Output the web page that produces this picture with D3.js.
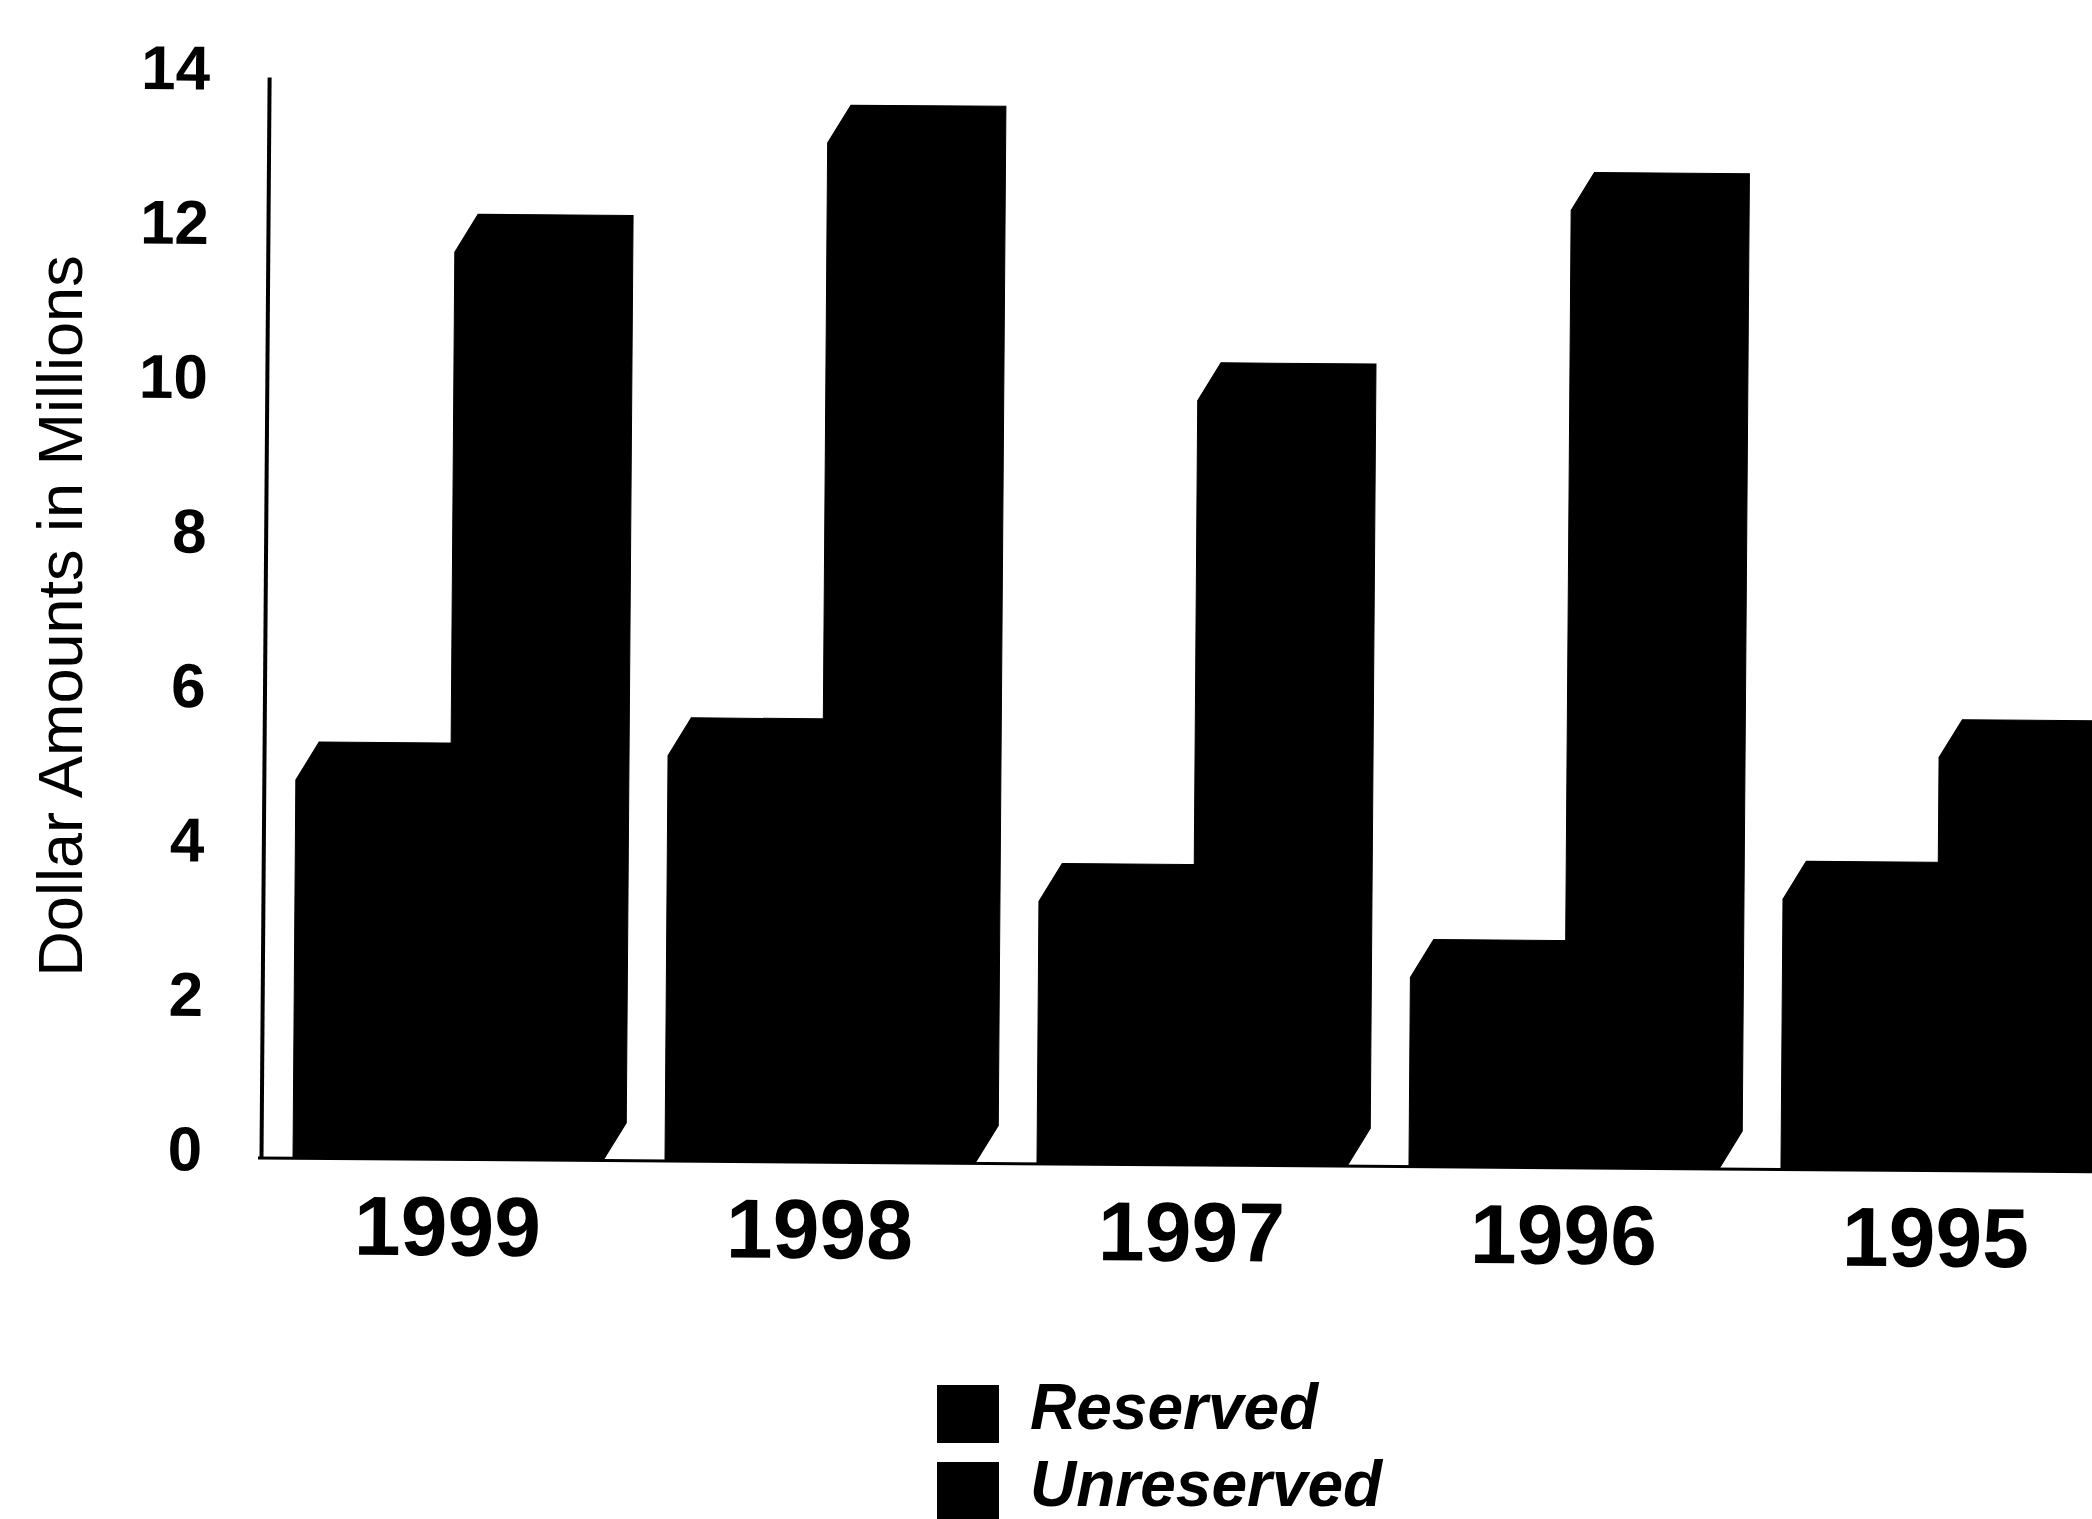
<!DOCTYPE html>
<html>
<head>
<meta charset="utf-8">
<script src="https://cdn.jsdelivr.net/npm/d3@7/dist/d3.min.js"></script>
<style>
html,body{margin:0;padding:0;background:#fff;overflow:hidden}
svg{display:block}
text{font-family:"Liberation Sans",Arial,sans-serif;fill:#000}
</style>
</head>
<body>
<svg id="chart" width="2092" height="1519"></svg>
<script>
// Fund balances by fiscal year, in millions of dollars
const years = ["1999", "1998", "1997", "1996", "1995"];
const reserved = [4.9, 5.25, 3.4, 2.45, 3.5];
const unreserved = [11.75, 13.2, 9.9, 12.4, 5.35];
const seriesNames = ["Reserved", "Unreserved"];
const yTicks = [0, 2, 4, 6, 8, 10, 12, 14];

const originX = 261, floorY = 1158, topY = 77;
const depthX = 23, depthY = 38;

const svg = d3.select("#chart");
// The whole plot sits at a slight clockwise tilt
const g = svg.append("g").attr("transform", `rotate(0.43 ${originX} ${floorY})`);

const y = d3.scaleLinear().domain([0, 14]).range([floorY, topY]);
const x0 = d3.scaleBand().domain(years).range([293, 293 + 372 * 5]).paddingInner(0).paddingOuter(0);
const x1 = d3.scaleBand().domain(seriesNames).range([0, 310]);

// Value axis
const yAxis = g.append("g").attr("transform", `translate(${originX},0)`)
  .call(d3.axisLeft(y).tickValues(yTicks).tickSize(0).tickPadding(59).tickFormat(d3.format("d")));
yAxis.select(".domain").attr("stroke", "#000").attr("stroke-width", 4);
yAxis.selectAll("text")
  .attr("dy", "0.2em")
  .style("font-size", "62px").style("font-weight", "700");

// Floor line
g.append("line").attr("x1", 258).attr("x2", 2092).attr("y1", floorY).attr("y2", floorY)
  .attr("stroke", "#000").attr("stroke-width", 3);

// Category labels
g.selectAll(".year").data(years).join("text").attr("class", "year")
  .attr("x", d => x0(d) + 155)
  .attr("y", 1254)
  .attr("text-anchor", "middle")
  .style("font-size", "84px").style("font-weight", "700")
  .text(d => d);

// Draws one extruded column as a single silhouette
function column(sel, value, name) {
  const rows = years.map((yr, i) => ({ yr, v: value[i] }));
  sel.append("g").selectAll("path").data(rows).join("path").attr("d", d => {
    const l = x0(d.yr) + x1(name), r = l + x1.bandwidth(), t = y(d.v);
    return `M${l},${floorY}L${l},${t}L${l + depthX},${t - depthY}L${r + depthX},${t - depthY}L${r + depthX},${floorY - depthY}L${r},${floorY}Z`;
  });
}
const barsLayer = g.append("g").attr("fill", "#000").attr("stroke", "#000").attr("stroke-width", 1);
column(barsLayer, unreserved, "Unreserved");
column(barsLayer, reserved, "Reserved");

// Value axis title
svg.append("text")
  .attr("transform", "translate(82,616) rotate(-90)")
  .attr("text-anchor", "middle")
  .style("font-size", "63px")
  .text("Dollar Amounts in Millions");

// Legend
const legendY = d3.scalePoint().domain(seriesNames).range([1385, 1462]);
const legend = svg.append("g").selectAll("g").data(seriesNames).join("g");
legend.append("rect").attr("x", 937).attr("width", 62).attr("height", 58)
  .attr("y", d => legendY(d)).attr("fill", "#000");
legend.append("text").attr("x", 1030).attr("y", d => legendY(d) + 44)
  .style("font-size", "64px").style("font-weight", "700").style("font-style", "italic")
  .text(d => d);
</script>
</body>
</html>
